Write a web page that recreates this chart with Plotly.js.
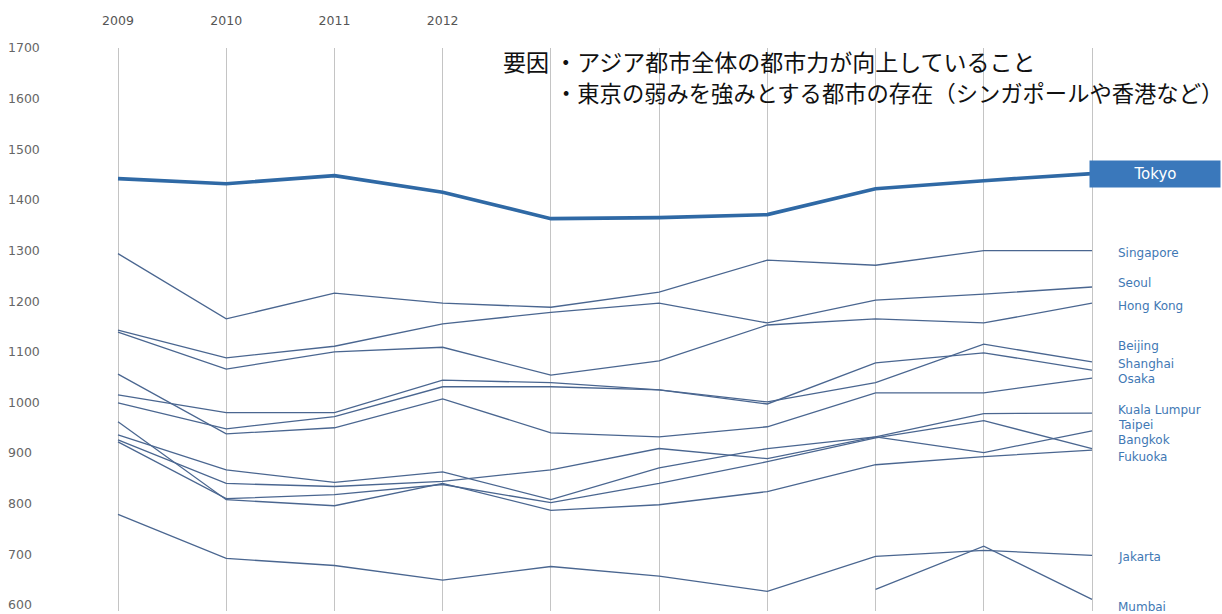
<!DOCTYPE html>
<html>
<head>
<meta charset="utf-8">
<script src="https://cdn.plot.ly/plotly-3.0.1.min.js"></script>
<style>html,body{margin:0;padding:0;background:#fff;}#chart{width:1222px;height:614px;}</style>
</head>
<body>
<div id="chart"></div>
<script>
// ---- data ----
const years = [2009, 2010, 2011, 2012, 2013, 2014, 2015, 2016, 2017, 2018];
const yearLabels = ['2009', '2010', '2011', '2012', '', '', '', '', '', ''];
const yTicks = [600, 700, 800, 900, 1000, 1100, 1200, 1300, 1400, 1500, 1600, 1700];

const cities = ['Singapore', 'Seoul', 'Hong Kong', 'Beijing', 'Shanghai', 'Osaka',
  'Kuala Lumpur', 'Taipei', 'Bangkok', 'Fukuoka', 'Jakarta', 'Mumbai'];

const tokyo       = [1442, 1432, 1448, 1415, 1363, 1365, 1371, 1422, 1438, 1452];
const singapore   = [1294, 1165, 1216, 1196, 1188, 1218, 1281, 1271, 1300, 1300];
const seoul       = [1143, 1088, 1111, 1155, 1178, 1196, 1157, 1202, 1214, 1228];
const hongKong    = [1139, 1066, 1100, 1109, 1054, 1082, 1153, 1165, 1157, 1196];
const beijing     = [1015,  980,  980, 1044, 1039, 1025, 1001, 1039, 1115, 1080];
const shanghai    = [ 999,  948,  972, 1031, 1031, 1025,  997, 1078, 1098, 1064];
const osaka       = [1056,  938,  950, 1007,  940,  932,  952, 1019, 1019, 1048];
const kualaLumpur = [ 936,  867,  842,  863,  808,  871,  909,  932,  978,  979];
const taipei      = [ 926,  840,  834,  844,  867,  909,  889,  932,  901,  944];
const bangkok     = [ 922,  810,  818,  838,  802,  840,  883,  930,  964,  909];
const fukuoka     = [ 962,  808,  796,  840,  787,  798,  824,  877,  893,  906];
const jakarta     = [ 779,  692,  678,  649,  676,  657,  627,  696,  708,  698];
const mumbai      = [null, null, null, null, null, null, null,  631,  716,  611];

// label values (y position of the right-hand name labels, in score units)
const labelValues = [1295, 1236, 1190, 1112, 1076, 1046, 986, 956, 925, 893, 695, 596];
const tokyoLabelValue = 1451;

const titleLine1 = '要因 ・アジア都市全体の都市力が向上していること';
const titleLine2 = '・東京の弱みを強みとする都市の存在（シンガポールや香港など）';

// ---- chart ----
const series = [singapore, seoul, hongKong, beijing, shanghai, osaka,
  kualaLumpur, taipei, bangkok, fukuoka, jakarta, mumbai];

const traces = series.map((s, i) => ({
  type: 'scatter', mode: 'lines', name: cities[i],
  x: years, y: s,
  line: {color: '#4a6690', width: 1.3},
  connectgaps: false, hoverinfo: 'skip'
}));
traces.push({
  type: 'scatter', mode: 'lines', name: 'Tokyo',
  x: years, y: tokyo,
  line: {color: '#2f69a5', width: 3.6}, hoverinfo: 'skip'
});

// plot area geometry
const L = 5, R = 124, T = 48, B = 3, W = 1222, H = 614;
const plotW = W - L - R;
const pxToPaperX = p => (p - L) / plotW;
const pxToPaperY = p => (H - B - p) / (H - T - B);
const pxPerYear = (1092 - 118) / 9;
const xMin = 2009 - (118 - L) / pxPerYear;
const xMax = 2018 + (W - R - 1092) / pxPerYear;

const annotations = [];
cities.forEach((c, i) => {
  annotations.push({
    text: c, xref: 'paper', yref: 'y', x: pxToPaperX(1116), y: labelValues[i],
    xanchor: 'left', yanchor: 'middle', showarrow: false,
    font: {family: 'DejaVu Sans', size: 12, color: '#3f78b4'}
  });
});
annotations.push({
  text: 'Tokyo', xref: 'paper', yref: 'y', x: pxToPaperX(1155), y: tokyoLabelValue,
  xanchor: 'center', yanchor: 'middle', showarrow: false,
  width: 126, height: 22, bgcolor: '#3a78bb', borderpad: 2,
  font: {family: 'DejaVu Sans', size: 15, color: '#ffffff'}
});
annotations.push({
  text: titleLine1, xref: 'paper', yref: 'paper', x: pxToPaperX(501), y: pxToPaperY(61),
  xanchor: 'left', yanchor: 'middle', showarrow: false,
  font: {family: 'Noto Sans CJK JP', size: 23, color: '#111111'}
});
annotations.push({
  text: titleLine2, xref: 'paper', yref: 'paper', x: pxToPaperX(553), y: pxToPaperY(92),
  xanchor: 'left', yanchor: 'middle', showarrow: false,
  font: {family: 'Noto Sans CJK JP', size: 22.3, color: '#111111'}
});

const layout = {
  width: W, height: H,
  margin: {l: L, r: R, t: T, b: B, pad: 0},
  paper_bgcolor: '#ffffff', plot_bgcolor: '#ffffff',
  showlegend: false, hovermode: false,
  xaxis: {
    range: [xMin, xMax], side: 'top',
    tickmode: 'array', tickvals: years, ticktext: yearLabels,
    showgrid: true, gridcolor: '#c4c4c4', gridwidth: 1,
    zeroline: false, showline: false, ticks: '',
    ticklabelstandoff: 20,
    tickfont: {family: 'DejaVu Sans', size: 12.5, color: '#555555'}
  },
  yaxis: {
    range: [600 - (H - B - 605) * 1100 / (605 - T), 1700],
    tickmode: 'array', tickvals: yTicks,
    showgrid: false, zeroline: false, showline: false, ticks: '',
    ticklabelposition: 'inside', ticklabeloverflow: 'allow',
    tickfont: {family: 'DejaVu Sans', size: 12.5, color: '#666666'}
  },
  annotations: annotations
};

Plotly.newPlot('chart', traces, layout, {staticPlot: true, displayModeBar: false});
</script>
</body>
</html>
